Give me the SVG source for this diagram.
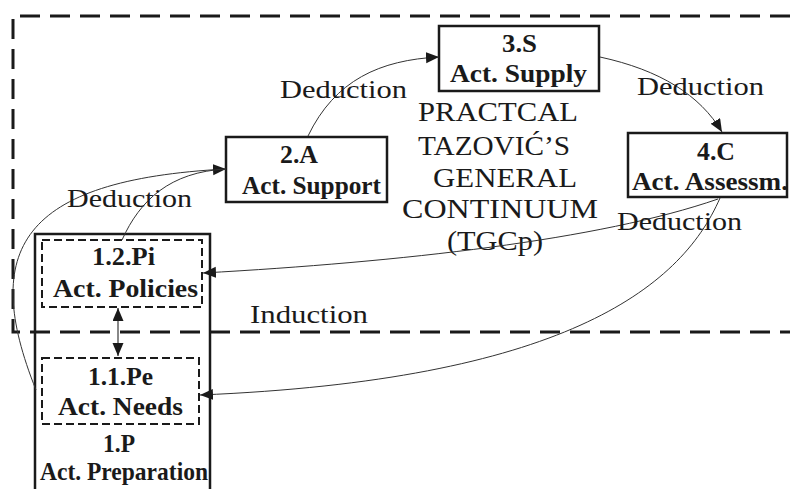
<svg xmlns="http://www.w3.org/2000/svg" width="790" height="489" viewBox="0 0 790 489">
<defs>
<marker id="ah" markerUnits="userSpaceOnUse" markerWidth="14" markerHeight="12" refX="13" refY="5.5" orient="auto-start-reverse">
<path d="M0,0 L13,5.5 L0,11 z" fill="#1a1a1a"/>
</marker>
<style>
.bg{fill:#fff}
.region{fill:none;stroke:#1a1a1a;stroke-width:3;stroke-dasharray:20 10}
.box{fill:#fff;stroke:#1a1a1a;stroke-width:2.5}
.dbox{fill:none;stroke:#1a1a1a;stroke-width:2;stroke-dasharray:8 4}
.outer{fill:none;stroke:#1a1a1a;stroke-width:2.5}
.conn{fill:none;stroke:#333;stroke-width:1}
.gray{fill:none;stroke:#888;stroke-width:2}
text{font-family:"Liberation Serif","Times New Roman",serif;fill:#1a1a1a}
.nl{font-size:25px;font-weight:bold}
.lab{font-size:26px}
.ct{font-size:28px}
</style>
</defs>
<rect class="bg" x="0" y="0" width="790" height="489"/>
<g id="region">
<path class="region" d="M790,16 L13,16 L13,332 L790,332"/>
</g>
<g id="title">
<text class="ct" x="418" y="121" textLength="160" lengthAdjust="spacingAndGlyphs">PRACTCAL</text>
<text class="ct" x="418" y="155" textLength="152" lengthAdjust="spacingAndGlyphs">TAZOVIĆ’S</text>
<text class="ct" x="433" y="187" textLength="144" lengthAdjust="spacingAndGlyphs">GENERAL</text>
<text class="ct" x="402" y="218" textLength="196" lengthAdjust="spacingAndGlyphs">CONTINUUM</text>
<text class="ct" x="447" y="250" textLength="96" lengthAdjust="spacingAndGlyphs">(TGCp)</text>
</g>
<g id="node-1P">
<path class="outer" d="M35,495 L35,234 L210,234 L210,495"/>
<text class="nl" x="103" y="452" textLength="32" lengthAdjust="spacingAndGlyphs">1.P</text>
<text class="nl" x="40" y="480" textLength="168" lengthAdjust="spacingAndGlyphs">Act. Preparation</text>
</g>
<g id="node-1-2-Pi">
<rect class="dbox" x="42" y="240" width="160" height="67"/>
<text class="nl" x="92" y="265" textLength="63" lengthAdjust="spacingAndGlyphs">1.2.Pi</text>
<text class="nl" x="53" y="297" textLength="145" lengthAdjust="spacingAndGlyphs">Act. Policies</text>
</g>
<g id="node-1-1-Pe">
<rect class="dbox" x="42" y="358" width="157" height="66"/>
<text class="nl" x="88" y="385" textLength="65" lengthAdjust="spacingAndGlyphs">1.1.Pe</text>
<text class="nl" x="58" y="415" textLength="125" lengthAdjust="spacingAndGlyphs">Act. Needs</text>
</g>
<g id="node-2A">
<rect class="box" x="226" y="137" width="161" height="65"/>
<text class="nl" x="280" y="163" textLength="38" lengthAdjust="spacingAndGlyphs">2.A</text>
<text class="nl" x="242" y="194" textLength="139" lengthAdjust="spacingAndGlyphs">Act. Support</text>
</g>
<g id="node-3S">
<rect class="box" x="439" y="26" width="160" height="65"/>
<text class="nl" x="502" y="52" textLength="35" lengthAdjust="spacingAndGlyphs">3.S</text>
<text class="nl" x="450" y="82" textLength="137" lengthAdjust="spacingAndGlyphs">Act. Supply</text>
</g>
<g id="node-4C">
<rect class="box" x="628" y="133" width="159" height="64"/>
<text class="nl" x="697" y="160" textLength="38" lengthAdjust="spacingAndGlyphs">4.C</text>
<text class="nl" x="632" y="190" textLength="156" lengthAdjust="spacingAndGlyphs">Act. Assessm.</text>
</g>
<g id="connectors">
<path class="conn" d="M36,390 C-20,250 20,180 226,169" marker-end="url(#ah)"/>
<path class="conn" d="M122,240 C140,200 170,172 226,169"/>
<path class="conn" d="M308,136 C335,80 380,60 439,57" marker-end="url(#ah)"/>
<path class="conn" d="M600,57 C660,70 700,95 722,132" marker-end="url(#ah)"/>
<path class="conn" d="M718,199 C600,240 400,262 203,273" marker-end="url(#ah)"/>
<path class="conn" d="M720,198 C680,290 560,380 200,395" marker-end="url(#ah)"/>
<path class="gray" d="M118,308 L118,356" marker-start="url(#ah)" marker-end="url(#ah)"/>
</g>
<g id="labels">
<text class="lab" x="280" y="98" textLength="127" lengthAdjust="spacingAndGlyphs">Deduction</text>
<text class="lab" x="67" y="207" textLength="125" lengthAdjust="spacingAndGlyphs">Deduction</text>
<text class="lab" x="637" y="95" textLength="127" lengthAdjust="spacingAndGlyphs">Deduction</text>
<text class="lab" x="617" y="230" textLength="125" lengthAdjust="spacingAndGlyphs">Deduction</text>
<text class="lab" x="250" y="323" textLength="118" lengthAdjust="spacingAndGlyphs">Induction</text>
</g>
</svg>
